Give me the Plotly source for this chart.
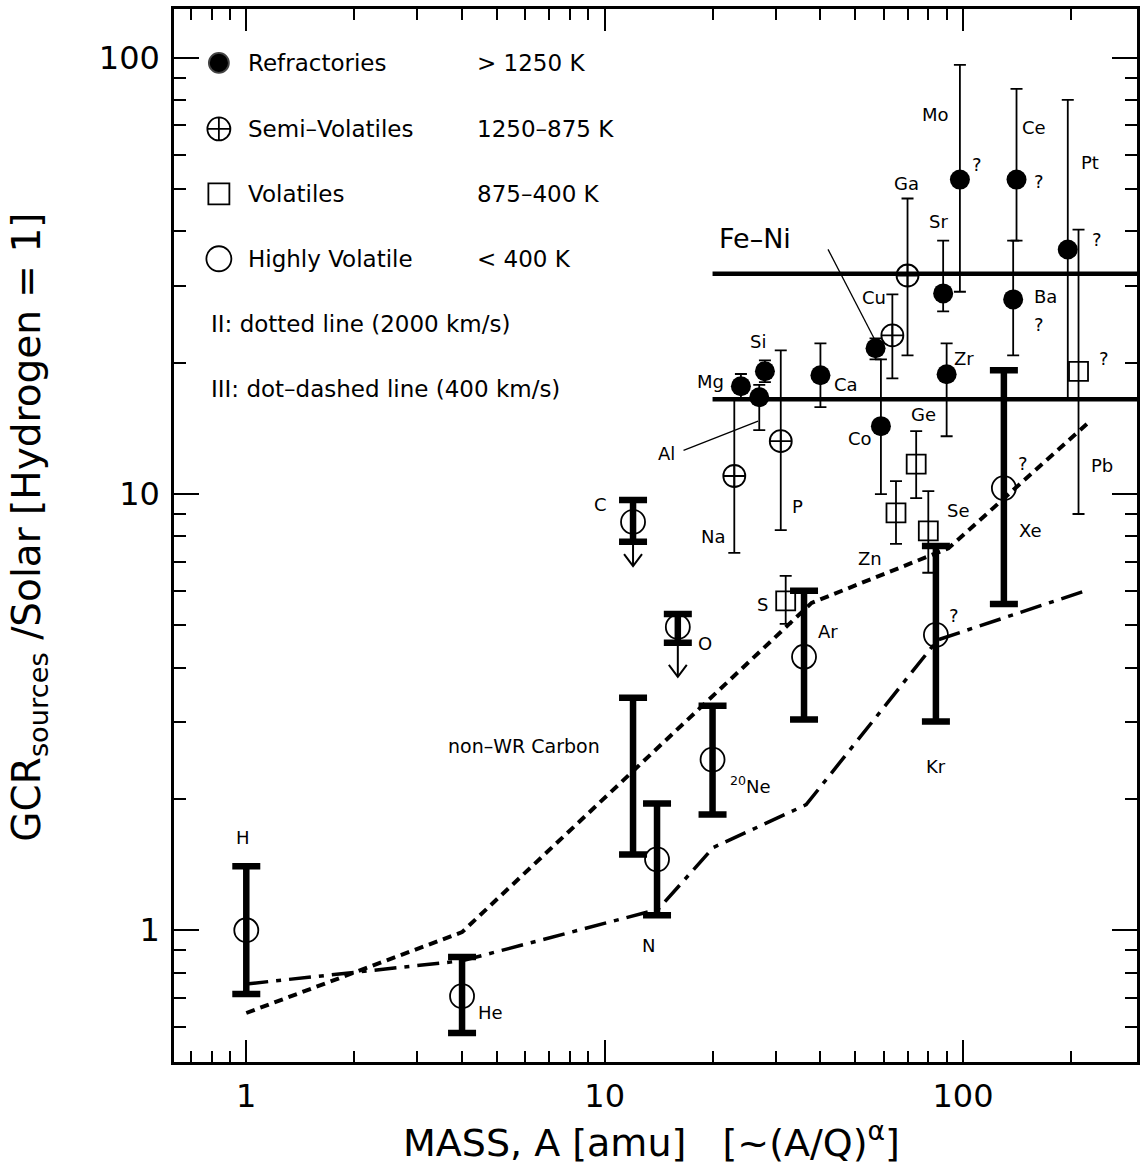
import numpy as np
import plotly.graph_objects as go

FONT = "DejaVu Sans"

# ---------------- data ----------------
# Highly volatile elements (open circles, thick bars)
hv_names = ["H", "He", "N", "Ne", "Ar", "Kr", "Xe"]
hv_mass = [1, 4, 14, 20, 36, 84, 130]
hv_val = [1.0, 0.706, 1.454, 2.462, 4.236, 4.757, 10.32]
hv_hi = [1.401, 0.868, 1.953, 3.273, 6.0, 7.60, 19.22]
hv_lo = [0.714, 0.581, 1.082, 1.843, 3.04, 3.008, 5.60]

# Upper limits (C, O)
lim_names = ["C", "O"]
lim_mass = [12, 16]
lim_val = [8.63, 4.96]
lim_hi = [9.69, 5.31]
lim_lo = [7.77, 4.56]
lim_tip = [6.84, 3.81]

# non-WR carbon range
nwr_mass = [12]
nwr_hi = [3.414]
nwr_lo = [1.492]

# Refractories (filled circles)
ref_names = ["Mg", "Al", "Si", "Ca", "Fe", "Co", "Sr", "Zr", "Mo", "Ce", "Ba", "Pt"]
ref_mass = [24, 27, 28, 40, 57, 59, 88, 90, 98, 141, 138, 196]
ref_val = [17.67, 16.67, 19.12, 18.72, 21.59, 14.31, 28.84, 18.82, 52.6, 52.6, 27.94, 36.36]
ref_hi = [18.85, 17.8, 20.26, 22.16, 22.75, 20.37, 38.13, 22.16, 96.4, 84.9, 38.13, 80.1]
ref_lo = [16.58, 14.01, 18.05, 15.82, 20.37, 10.0, 26.23, 13.57, 29.1, 38.13, 20.8, 16.5]

# Semi-volatiles (crossed circles)
sv_names = ["Na", "P", "Cu", "Ga"]
sv_mass = [23, 31, 63.5, 70]
sv_val = [11.0, 13.22, 23.11, 31.7]
sv_hi = [16.5, 21.36, 28.69, 47.6]
sv_lo = [7.33, 8.27, 18.42, 20.8]

# Volatiles (squares)
vol_names = ["S", "Zn", "Ge", "Se", "Pb"]
vol_mass = [32, 65, 74, 80, 210]
vol_val = [5.69, 9.05, 11.71, 8.23, 19.12]
vol_hi = [6.49, 10.71, 13.94, 10.16, 40.4]
vol_lo = [5.04, 7.69, 9.79, 6.6, 9.0]

# Model II (dotted) and model III (dot-dashed)
m2_mass = [1, 4, 37.8, 91, 222]
m2_val = [0.646, 0.99, 5.63, 7.51, 14.5]
m3_mass = [1, 4, 14.1, 20.1, 36.5, 84.9, 222]
m3_val = [0.753, 0.851, 1.117, 1.548, 1.94, 4.63, 6.02]

# Fe-Ni band
feni_levels = [16.5, 32.0]
feni_mass = [20, 400]

# Element labels
lab_text = ["H", "He", "N", "non\u2013WR Carbon", "<sup>20</sup>Ne", "C", "O", "Ar", "S",
            "Kr", "Xe", "?", "?", "Mg", "Si", "Ca", "Al", "Na", "P", "Co", "Cu",
            "Ga", "Sr", "Zr", "Mo", "?", "Ce", "?", "Ba", "?", "Pt", "?", "?", "Pb",
            "Ge", "Se", "Zn"]
lab_x = [0.978, 4.79, 13.26, 5.95, 25.5, 9.75, 19.1, 42.0, 27.5,
         83.8, 154.1, 147.3, 94.1, 19.7, 26.8, 47.1, 14.88, 20.1, 34.6, 51.5, 56.4,
         69.7, 85.5, 100.9, 83.8, 109.7, 158.1, 163.2, 169.6, 163.2, 226.4, 236.8, 247.7, 244.5,
         77.6, 97.2, 55.0]
lab_y = [1.633, 0.649, 0.924, 2.64, 2.15, 9.48, 4.54, 4.84, 5.57,
         2.37, 8.23, 11.76, 5.26, 18.16, 22.35, 17.8, 12.4, 8.01, 9.38, 13.4, 28.2,
         51.4, 42.1, 20.5, 74.2, 56.9, 69.4, 52.1, 28.4, 24.5, 57.7, 38.4, 20.5, 11.6,
         15.2, 9.19, 7.11]

# leader lines
feni_lead_x = [42.0, 57.1]
feni_lead_y = [36.4, 22.35]
al_lead_x = [16.6, 26.8]
al_lead_y = [12.6, 14.7]

# legend
leg_labels = ["Refractories", "Semi\u2013Volatiles", "Volatiles", "Highly Volatile"]
leg_ranges = ["> 1250 K", "1250\u2013875 K", "875\u2013400 K", "< 400 K"]
leg_symbols = ["circle", "circle-cross-open", "square-open", "circle-open"]
leg_sizes = [20, 23, 21, 25]
leg_notes = ["II: dotted line (2000 km/s)", "III: dot\u2013dashed line (400 km/s)"]

# ---------------- figure ----------------
fig = go.Figure()


def errs(val, hi, lo):
    v = np.array(val, float)
    return dict(type="data", symmetric=False, array=(np.array(hi) - v).tolist(),
                arrayminus=(v - np.array(lo)).tolist())


# model curves
fig.add_trace(go.Scatter(x=m2_mass, y=m2_val, mode="lines",
                         line=dict(color="black", width=4, dash="9px,6px"), showlegend=False))
fig.add_trace(go.Scatter(x=m3_mass, y=m3_val, mode="lines",
                         line=dict(color="black", width=3.5, dash="22px,8px,5px,8px"), showlegend=False))

# Fe-Ni lines
for lv in feni_levels:
    fig.add_trace(go.Scatter(x=feni_mass, y=[lv, lv], mode="lines",
                             line=dict(color="black", width=4.5), showlegend=False))

# leader lines
fig.add_trace(go.Scatter(x=feni_lead_x, y=feni_lead_y, mode="lines",
                         line=dict(color="black", width=1.3), showlegend=False))
fig.add_trace(go.Scatter(x=al_lead_x, y=al_lead_y, mode="lines",
                         line=dict(color="black", width=1.3), showlegend=False))

THICK = dict(color="black", thickness=6.5, width=14)
THIN = dict(color="black", thickness=1.8, width=6)

# non-WR carbon (bar only)
nwr_mid = np.sqrt(np.array(nwr_hi) * np.array(nwr_lo))
fig.add_trace(go.Scatter(x=nwr_mass, y=nwr_mid.tolist(), mode="markers",
                         marker=dict(size=1, color="rgba(0,0,0,0)"),
                         error_y={**errs(nwr_mid, nwr_hi, nwr_lo), **THICK}, showlegend=False))

# highly volatile
fig.add_trace(go.Scatter(x=hv_mass, y=hv_val, mode="markers",
                         marker=dict(symbol="circle-open", size=24, color="black", line=dict(width=1.8)),
                         error_y={**errs(hv_val, hv_hi, hv_lo), **THICK}, showlegend=False))
# upper limits
fig.add_trace(go.Scatter(x=lim_mass, y=lim_val, mode="markers",
                         marker=dict(symbol="circle-open", size=24, color="black", line=dict(width=1.8)),
                         error_y={**errs(lim_val, lim_hi, lim_lo), **THICK}, showlegend=False))
hw = 9 / 359.5
hh = 12 / 437.5
for m, lo, tip in zip(lim_mass, lim_lo, lim_tip):
    fig.add_trace(go.Scatter(x=[m, m], y=[lo, tip], mode="lines",
                             line=dict(color="black", width=2), showlegend=False))
    fig.add_trace(go.Scatter(x=[m * 10 ** (-hw), m, m * 10 ** hw],
                             y=[tip * 10 ** hh, tip, tip * 10 ** hh], mode="lines",
                             line=dict(color="black", width=2), showlegend=False))

# volatiles
fig.add_trace(go.Scatter(x=vol_mass, y=vol_val, mode="markers",
                         marker=dict(symbol="square-open", size=19, color="black", line=dict(width=1.8)),
                         error_y={**errs(vol_val, vol_hi, vol_lo), **THIN}, showlegend=False))
# semi-volatiles
fig.add_trace(go.Scatter(x=sv_mass, y=sv_val, mode="markers",
                         marker=dict(symbol="circle-cross-open", size=22, color="black", line=dict(width=1.8)),
                         error_y={**errs(sv_val, sv_hi, sv_lo), **THIN}, showlegend=False))
# refractories
fig.add_trace(go.Scatter(x=ref_mass, y=ref_val, mode="markers",
                         marker=dict(symbol="circle", size=20, color="black"),
                         error_y={**errs(ref_val, ref_hi, ref_lo), **THIN}, showlegend=False))

# legend markers on overlay axes
leg_rows = [0.9488, 0.8861, 0.8245, 0.7628]
for sym, sz, ry in zip(leg_symbols, leg_sizes, leg_rows):
    fig.add_trace(go.Scatter(x=[0.0466], y=[ry], xaxis="x2", yaxis="y2", mode="markers",
                             marker=dict(symbol=sym, size=sz, color="black", line=dict(width=1.8)),
                             showlegend=False))

annotations = []
for t, x, y in zip(leg_labels, [0.0746] * 4, leg_rows):
    annotations.append(dict(text=t, x=x, y=y, xref="paper", yref="paper", xanchor="left",
                            yanchor="middle", showarrow=False, font=dict(family=FONT, size=23)))
for t, y in zip(leg_ranges, leg_rows):
    annotations.append(dict(text=t, x=0.313, y=y, xref="paper", yref="paper", xanchor="left",
                            yanchor="middle", showarrow=False, font=dict(family=FONT, size=23)))
for t, y in zip(leg_notes, [0.7011, 0.6395]):
    annotations.append(dict(text=t, x=0.0363, y=y, xref="paper", yref="paper", xanchor="left",
                            yanchor="middle", showarrow=False, font=dict(family=FONT, size=23)))

for t, x, y in zip(lab_text, lab_x, lab_y):
    size = 19 if t.startswith("non") else 18
    annotations.append(dict(text=t, x=np.log10(x), y=np.log10(y), xref="x", yref="y",
                            showarrow=False, font=dict(family=FONT, size=size)))
annotations.append(dict(text="Fe\u2013Ni", x=np.log10(26.3), y=np.log10(38.6), xref="x", yref="y",
                        showarrow=False, font=dict(family=FONT, size=27)))

# axis titles
annotations.append(dict(text="MASS, A [amu]\u00a0\u00a0\u00a0[~(A/Q)<sup>\u03b1</sup>]",
                        x=0.496, y=-0.0739, xref="paper", yref="paper", xanchor="center",
                        yanchor="middle", showarrow=False, font=dict(family=FONT, size=38)))
annotations.append(dict(text="GCR<sub>sources</sub> /Solar [Hydrogen = 1]",
                        x=-0.151, y=0.508, xref="paper", yref="paper", xanchor="center",
                        yanchor="middle", textangle=-90, showarrow=False,
                        font=dict(family=FONT, size=39)))

x_minor = [v for v in [0.7, 0.8, 0.9] + [d * 10 ** e for e in range(0, 3) for d in range(2, 10)] if v < 300]
y_minor = [v for v in [0.6, 0.7, 0.8, 0.9] + [d * 10 ** e for e in range(0, 2) for d in range(2, 10)]]

axis_common = dict(type="log", ticks="inside", tickwidth=2, mirror="allticks", showline=True,
                   linewidth=2.5, linecolor="black", showgrid=False, zeroline=False,
                   tickcolor="black", tickfont=dict(family=FONT, size=32, color="black"))

fig.update_layout(
    width=1146, height=1175,
    margin=dict(l=174, r=6, t=7, b=113),
    paper_bgcolor="white", plot_bgcolor="white",
    showlegend=False,
    xaxis=dict(**axis_common, range=[-0.2017, 2.4854], tickvals=[1, 10, 100],
               ticktext=["1", "10", "100"], ticklen=22, ticklabelstandoff=4,
               minor=dict(tickvals=x_minor, ticks="inside", ticklen=11, tickwidth=1.5,
                          tickcolor="black", showgrid=False)),
    yaxis=dict(**axis_common, range=[-0.3021, 2.1121], tickvals=[1, 10, 100],
               ticktext=["1", "10", "100"], ticklen=25, ticklabelstandoff=5,
               minor=dict(tickvals=y_minor, ticks="inside", ticklen=12, tickwidth=1.5,
                          tickcolor="black", showgrid=False)),
    xaxis2=dict(overlaying="x", anchor="y2", range=[0, 1], visible=False, fixedrange=True),
    yaxis2=dict(overlaying="y", anchor="x2", range=[0, 1], visible=False, fixedrange=True),
    annotations=annotations,
    font=dict(family=FONT, color="black"),
)

fig.write_html("out.html", config={"displayModeBar": False},
               post_script="document.body.style.margin='0px';")
